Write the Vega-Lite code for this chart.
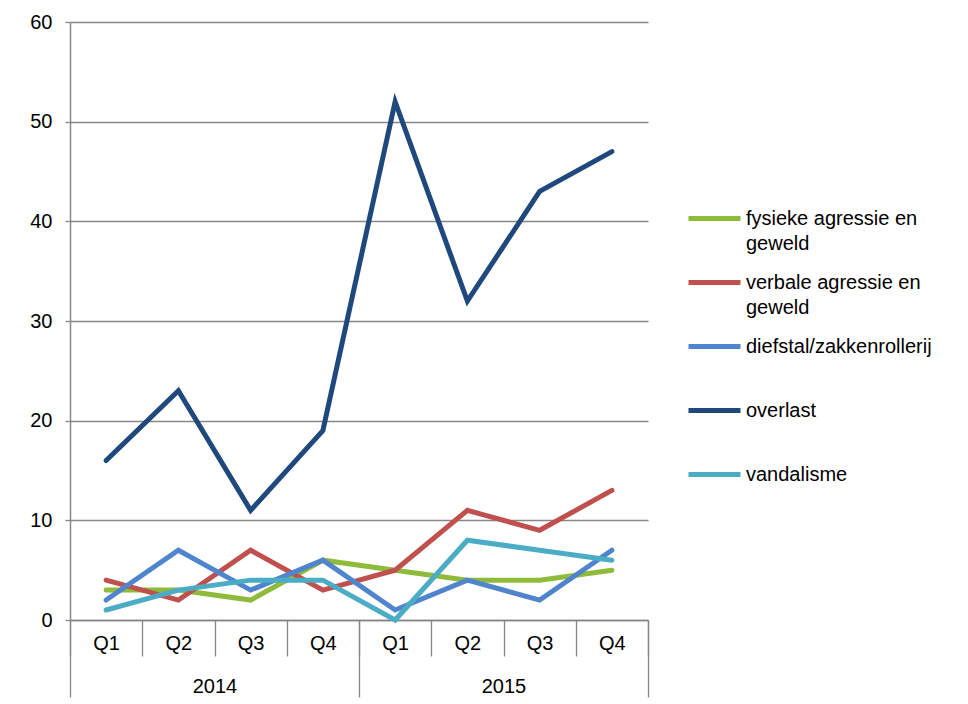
{
  "$schema": "https://vega.github.io/schema/vega-lite/v6.json",
  "width": 578,
  "height": 598,
  "autosize": "none",
  "padding": {"left": 70, "top": 22, "right": 320, "bottom": 84},
  "background": "white",
  "config": {
    "font": "Liberation Sans",
    "view": {"stroke": null},
    "style": {"guide-label": {"lineHeight": 25}}
  },
  "data": {
    "values": [
      {"period": "2014 Q1", "year": "2014", "category": "fysieke agressie en geweld", "value": 3},
      {"period": "2014 Q2", "year": "2014", "category": "fysieke agressie en geweld", "value": 3},
      {"period": "2014 Q3", "year": "2014", "category": "fysieke agressie en geweld", "value": 2},
      {"period": "2014 Q4", "year": "2014", "category": "fysieke agressie en geweld", "value": 6},
      {"period": "2015 Q1", "year": "2015", "category": "fysieke agressie en geweld", "value": 5},
      {"period": "2015 Q2", "year": "2015", "category": "fysieke agressie en geweld", "value": 4},
      {"period": "2015 Q3", "year": "2015", "category": "fysieke agressie en geweld", "value": 4},
      {"period": "2015 Q4", "year": "2015", "category": "fysieke agressie en geweld", "value": 5},
      {"period": "2014 Q1", "year": "2014", "category": "verbale agressie en geweld", "value": 4},
      {"period": "2014 Q2", "year": "2014", "category": "verbale agressie en geweld", "value": 2},
      {"period": "2014 Q3", "year": "2014", "category": "verbale agressie en geweld", "value": 7},
      {"period": "2014 Q4", "year": "2014", "category": "verbale agressie en geweld", "value": 3},
      {"period": "2015 Q1", "year": "2015", "category": "verbale agressie en geweld", "value": 5},
      {"period": "2015 Q2", "year": "2015", "category": "verbale agressie en geweld", "value": 11},
      {"period": "2015 Q3", "year": "2015", "category": "verbale agressie en geweld", "value": 9},
      {"period": "2015 Q4", "year": "2015", "category": "verbale agressie en geweld", "value": 13},
      {"period": "2014 Q1", "year": "2014", "category": "diefstal/zakkenrollerij", "value": 2},
      {"period": "2014 Q2", "year": "2014", "category": "diefstal/zakkenrollerij", "value": 7},
      {"period": "2014 Q3", "year": "2014", "category": "diefstal/zakkenrollerij", "value": 3},
      {"period": "2014 Q4", "year": "2014", "category": "diefstal/zakkenrollerij", "value": 6},
      {"period": "2015 Q1", "year": "2015", "category": "diefstal/zakkenrollerij", "value": 1},
      {"period": "2015 Q2", "year": "2015", "category": "diefstal/zakkenrollerij", "value": 4},
      {"period": "2015 Q3", "year": "2015", "category": "diefstal/zakkenrollerij", "value": 2},
      {"period": "2015 Q4", "year": "2015", "category": "diefstal/zakkenrollerij", "value": 7},
      {"period": "2014 Q1", "year": "2014", "category": "overlast", "value": 16},
      {"period": "2014 Q2", "year": "2014", "category": "overlast", "value": 23},
      {"period": "2014 Q3", "year": "2014", "category": "overlast", "value": 11},
      {"period": "2014 Q4", "year": "2014", "category": "overlast", "value": 19},
      {"period": "2015 Q1", "year": "2015", "category": "overlast", "value": 52},
      {"period": "2015 Q2", "year": "2015", "category": "overlast", "value": 32},
      {"period": "2015 Q3", "year": "2015", "category": "overlast", "value": 43},
      {"period": "2015 Q4", "year": "2015", "category": "overlast", "value": 47},
      {"period": "2014 Q1", "year": "2014", "category": "vandalisme", "value": 1},
      {"period": "2014 Q2", "year": "2014", "category": "vandalisme", "value": 3},
      {"period": "2014 Q3", "year": "2014", "category": "vandalisme", "value": 4},
      {"period": "2014 Q4", "year": "2014", "category": "vandalisme", "value": 4},
      {"period": "2015 Q1", "year": "2015", "category": "vandalisme", "value": 0},
      {"period": "2015 Q2", "year": "2015", "category": "vandalisme", "value": 8},
      {"period": "2015 Q3", "year": "2015", "category": "vandalisme", "value": 7},
      {"period": "2015 Q4", "year": "2015", "category": "vandalisme", "value": 6}
    ]
  },
  "layer": [
    {
      "mark": {"type": "line", "strokeWidth": 5, "strokeCap": "round"},
      "encoding": {
        "x": {
          "field": "period",
          "type": "ordinal",
          "scale": {"type": "band", "paddingInner": 0, "paddingOuter": 0},
          "axis": {
            "orient": "bottom",
            "title": null,
            "labelExpr": "slice(datum.label, 5)",
            "labelAngle": 0,
            "labelFontSize": 20,
            "labelColor": "#000000",
            "labelBaseline": "top",
            "labelPadding": -23,
            "tickBand": "extent",
            "tickSize": 36,
            "tickColor": "#868686",
            "tickWidth": 1.3,
            "domainColor": "#868686",
            "domainWidth": 1.5,
            "grid": false
          }
        },
        "y": {
          "field": "value",
          "type": "quantitative",
          "scale": {"domain": [0, 60]},
          "axis": {
            "title": null,
            "values": [0, 10, 20, 30, 40, 50, 60],
            "labelFontSize": 20,
            "labelColor": "#000000",
            "labelPadding": 13,
            "tickSize": 5,
            "tickColor": "#868686",
            "tickWidth": 1.3,
            "domainColor": "#868686",
            "domainWidth": 1.5,
            "grid": true,
            "gridColor": "#868686",
            "gridWidth": 1.5
          }
        },
        "color": {
          "field": "category",
          "type": "nominal",
          "sort": null,
          "scale": {
            "domain": ["fysieke agressie en geweld", "verbale agressie en geweld", "diefstal/zakkenrollerij", "overlast", "vandalisme"],
            "range": ["#8FBB3A", "#C0504D", "#4F85CD", "#1F497D", "#4BACC6"]
          },
          "legend": {
            "title": null,
            "orient": "none",
            "legendX": 616,
            "legendY": 168,
            "labelExpr": "indexof(datum.label, ' geweld') > 0 ? [replace(datum.label, ' geweld', ''), 'geweld'] : datum.label",
            "labelFontSize": 20,
            "labelColor": "#000000",
            "labelOffset": 3,
            "labelLimit": 300,
            "symbolType": "stroke",
            "symbolSize": 2704,
            "symbolStrokeWidth": 5,
            "gridAlign": "all",
            "rowPadding": -1
          }
        }
      }
    },
    {
      "mark": {"type": "point", "opacity": 0},
      "encoding": {
        "x": {
          "field": "year",
          "type": "ordinal",
          "scale": {"type": "band", "paddingInner": 0, "paddingOuter": 0},
          "axis": {
            "orient": "bottom",
            "title": null,
            "labelAngle": 0,
            "labelFontSize": 20,
            "labelColor": "#000000",
            "labelBaseline": "top",
            "labelPadding": -21,
            "tickBand": "extent",
            "tickSize": 77,
            "tickColor": "#868686",
            "tickWidth": 1.3,
            "domain": false,
            "grid": false
          }
        },
        "y": {"datum": 0}
      }
    }
  ],
  "resolve": {"scale": {"x": "independent"}, "axis": {"x": "independent"}}
}
